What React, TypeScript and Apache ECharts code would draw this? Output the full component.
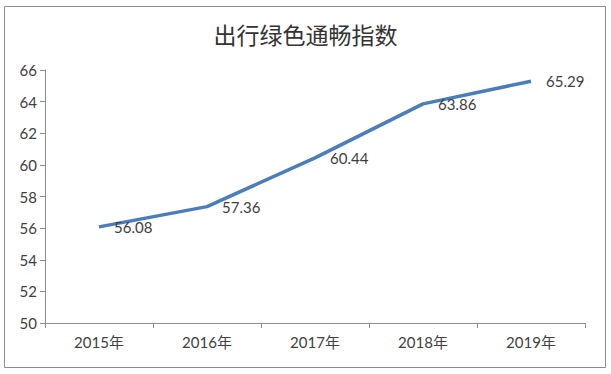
import React, { useEffect, useRef } from "react";
import * as echarts from "echarts";

const title = "出行绿色通畅指数";
const categories = ["2015年", "2016年", "2017年", "2018年", "2019年"];
const values = [56.08, 57.36, 60.44, 63.86, 65.29];
const yMin = 50;
const yMax = 66;
const yStep = 2;

export default function App() {
  const ref = useRef<HTMLDivElement>(null);
  useEffect(() => {
    if (!ref.current) return;
    const chart = echarts.init(ref.current, null, { renderer: "svg" });
    const font = "Lato, 'Noto Sans CJK SC', sans-serif";
    chart.setOption({
      animation: false,
      backgroundColor: "#ffffff",
      title: {
        text: title,
        left: "center",
        top: 17,
        textStyle: {
          fontSize: 23,
          fontWeight: "normal",
          color: "#333333",
          fontFamily: "'Noto Sans CJK SC', sans-serif",
        },
      },
      graphic: [
        {
          type: "rect",
          shape: { x: 4.5, y: 6.5, width: 601, height: 361 },
          style: { fill: "none", stroke: "#8c8c8c", lineWidth: 1 },
          silent: true,
        },
      ],
      grid: { left: 45, right: 26, top: 70, bottom: 51, containLabel: false },
      xAxis: {
        type: "category",
        data: categories,
        boundaryGap: true,
        axisLine: { lineStyle: { color: "#8c8c8c", width: 1 } },
        axisTick: { show: true, length: 5, lineStyle: { color: "#8c8c8c" } },
        axisLabel: { color: "#404040", fontSize: 15, fontFamily: font, margin: 11 },
      },
      yAxis: {
        type: "value",
        min: yMin,
        max: yMax,
        interval: yStep,
        axisLine: { show: true, lineStyle: { color: "#8c8c8c", width: 1 } },
        axisTick: { show: true, length: 5, lineStyle: { color: "#8c8c8c" } },
        splitLine: { show: false },
        axisLabel: { color: "#404040", fontSize: 15, fontFamily: font, margin: 8 },
      },
      series: [
        {
          type: "line",
          data: values,
          symbol: "circle",
          symbolSize: 2,
          showSymbol: true,
          itemStyle: { color: "rgba(0,0,0,0)", borderColor: "rgba(0,0,0,0)", borderWidth: 0 },
          lineStyle: { color: "#4a7ebb", width: 3.5 },
          label: {
            show: true,
            position: "right",
            distance: 14,
            color: "#404040",
            fontSize: 15,
            fontFamily: font,
            formatter: (p: any) => Number(p.value).toFixed(2),
          },
        },
      ],
    });
    return () => chart.dispose();
  }, []);
  return (
    <div
      ref={ref}
      style={{ position: "fixed", left: 0, top: 0, width: 611, height: 374 }}
    />
  );
}
